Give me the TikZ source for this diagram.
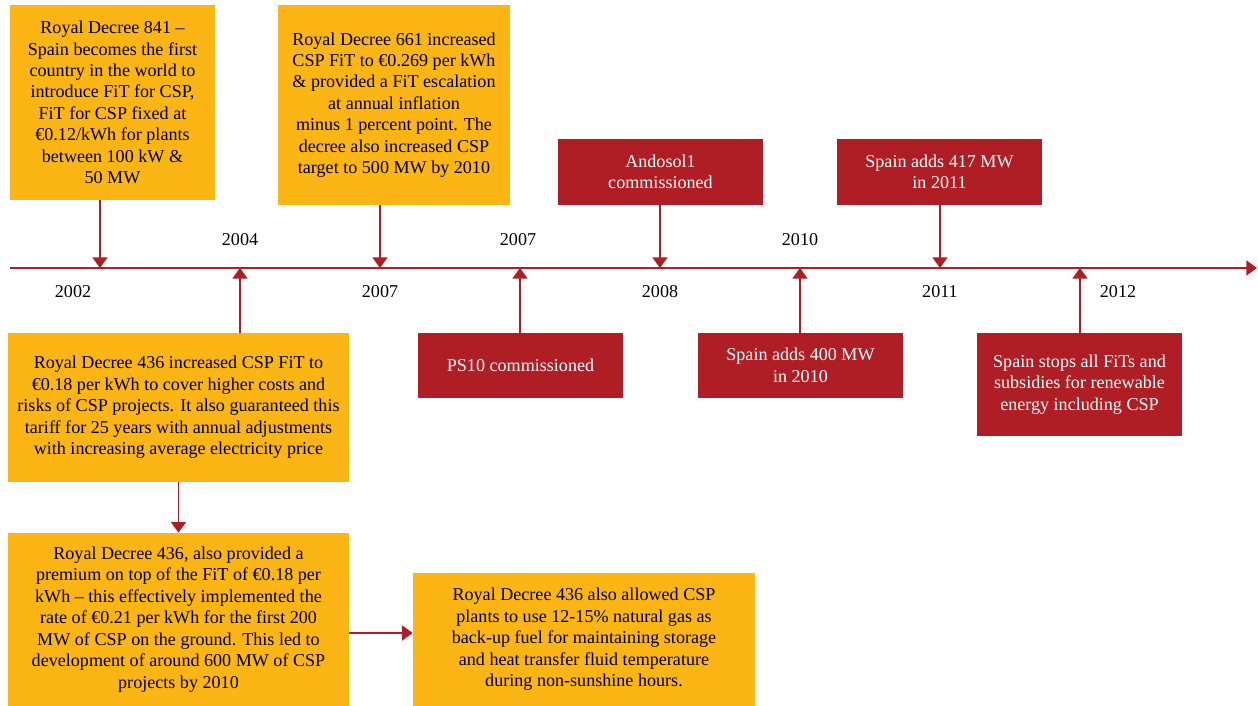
\documentclass[tikz,border=0pt]{standalone}
\usepackage{fontspec}
\setmainfont{Liberation Serif}
\usetikzlibrary{arrows.meta}
\definecolor{csporange}{HTML}{FBB615}
\definecolor{cspred}{HTML}{AE1E24}
\tikzset{
	yearbox/.style={
		fill=csporange, inner sep=2pt, align=center, text=black,
		font={\fontsize{10.3}{12.2}\selectfont}
	},
	eventbox/.style={
		fill=cspred, inner sep=2pt, align=center, text=white,
		minimum width=4.1cm, font={\fontsize{10.3}{12.2}\selectfont}
	},
	yearlbl/.style={font={\fontsize{10.3}{12.2}\selectfont}},
	tick/.style={draw=cspred, line width=0.85pt, -{Triangle[width=8.5pt,length=6pt]}},
	>=stealth,
}

\begin{document}
\begin{tikzpicture}[x=0.02cm, y=-0.02cm]
\useasboundingbox (0,0) rectangle (1258,706);
% timeline
\coordinate (tstart) at (10,268);
\coordinate (tend) at (1257,268);
\draw [tick] (tstart) -- (tend);
% boxes above the line
\node [yearbox, minimum width=4.1cm, minimum height=3.9cm] (rd841) at (112.5,102.5)
	{Royal Decree 841 --\\ Spain becomes the first\\ country in the world to\\ introduce FiT for CSP,\\ FiT for CSP fixed at\\ €0.12/kWh for plants\\ between 100 kW \&\\ 50 MW};
\node [yearbox, minimum width=4.64cm, minimum height=4cm] (rd661) at (394,105)
	{Royal Decree 661 increased\\ CSP FiT to €0.269 per kWh\\ \& provided a FiT escalation\\ at annual inflation\\ minus 1 percent point. The\\ decree also increased CSP\\ target to 500 MW by 2010};
\node [eventbox, minimum height=1.32cm] (ando) at (660.5,172) {Andosol1\\ commissioned};
\node [eventbox, minimum height=1.32cm] (add417) at (939.5,172) {Spain adds 417 MW\\ in 2011};
% boxes below the line
\node [yearbox, minimum width=6.82cm, minimum height=2.98cm] (rd436) at (178.5,407.5)
	{Royal Decree 436 increased CSP FiT to\\ €0.18 per kWh to cover higher costs and\\ risks of CSP projects. It also guaranteed this\\ tariff for 25 years with annual adjustments\\ with increasing average electricity price};
\node [eventbox, minimum height=1.3cm] (ps10) at (520.5,365.5) {PS10 commissioned};
\node [eventbox, minimum height=1.3cm] (add400) at (800.5,365.5) {Spain adds 400 MW\\ in 2010};
\node [eventbox, minimum height=2.06cm] (stops) at (1079.5,384.5)
	{Spain stops all FiTs and\\ subsidies for renewable\\ energy including CSP};
\node [yearbox, minimum width=6.82cm, minimum height=3.46cm] (premium) at (178.5,619.5)
	{Royal Decree 436, also provided a\\ premium on top of the FiT of €0.18 per\\ kWh -- this effectively implemented the\\ rate of €0.21 per kWh for the first 200\\ MW of CSP on the ground. This led to\\ development of around 600 MW of CSP\\ projects by 2010};
\node [yearbox, minimum width=6.84cm, minimum height=2.66cm] (gas) at (584,639.5)
	{Royal Decree 436 also allowed CSP\\ plants to use 12-15\% natural gas as\\ back-up fuel for maintaining storage\\ and heat transfer fluid temperature\\ during non-sunshine hours.};
% years
\node [yearlbl] (y2002) at (73,292) {2002};
\node [yearlbl] (y2004) at (240,240) {2004};
\node [yearlbl] (y2007a) at (380,292) {2007};
\node [yearlbl] (y2007b) at (518,240) {2007};
\node [yearlbl] (y2008) at (660,292) {2008};
\node [yearlbl] (y2010) at (800,240) {2010};
\node [yearlbl] (y2011) at (940,292) {2011};
\node [yearlbl] (y2012) at (1118,292) {2012};
% ticks onto the line
\coordinate (t100) at (100,268);
\coordinate (t240) at (240,268);
\coordinate (t380) at (380,268);
\coordinate (t520) at (520,268);
\coordinate (t660) at (660,268);
\coordinate (t800) at (800,268);
\coordinate (t940) at (940,268);
\coordinate (t1080) at (1080,268);
\draw [tick] (rd841.south -| t100) -- (t100);
\draw [tick] (rd661.south -| t380) -- (t380);
\draw [tick] (ando.south -| t660) -- (t660);
\draw [tick] (add417.south -| t940) -- (t940);
\draw [tick] (rd436.north -| t240) -- (t240);
\draw [tick] (ps10.north -| t520) -- (t520);
\draw [tick] (add400.north -| t800) -- (t800);
\draw [tick] (stops.north -| t1080) -- (t1080);
\draw [tick] (rd436.south) -- (premium.north);
\draw [tick] (premium.east |- 0,633) -- (gas.west |- 0,633);
\end{tikzpicture}
\end{document}
